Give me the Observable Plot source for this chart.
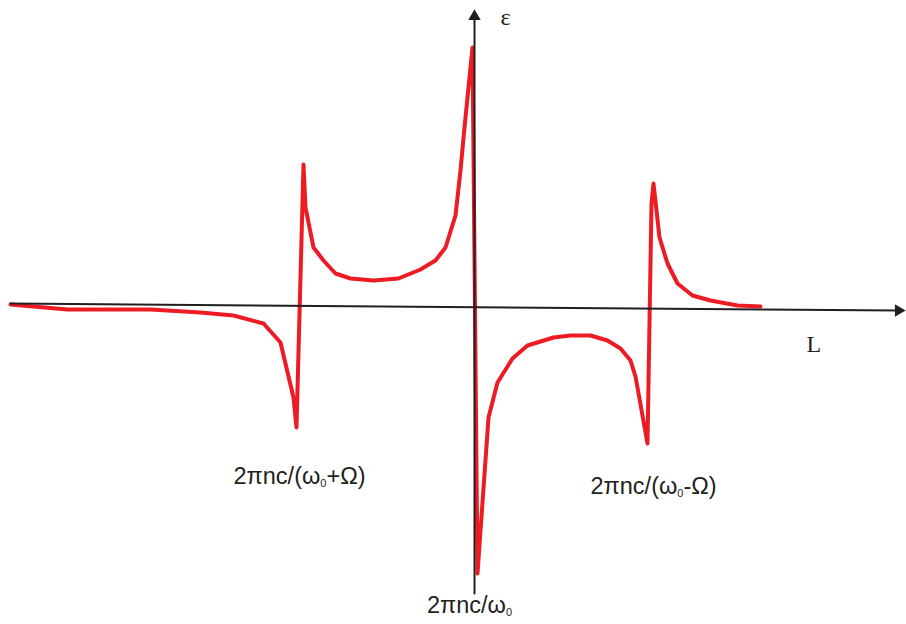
<!DOCTYPE html>
<html><head><meta charset="utf-8">
<script src="https://cdn.jsdelivr.net/npm/d3@7"></script>
<script src="https://cdn.jsdelivr.net/npm/@observablehq/plot@0.6"></script>
<style>body{margin:0;background:#fff}#chart svg{display:block}</style>
</head><body><div id="chart"></div>
<script>
// Curve: L (horizontal) and ε (vertical), arbitrary units
const Lvals = [-4.64,-4.07,-3.24,-2.74,-2.41,-2.11,-1.94,-1.81,-1.78,-1.71,-1.69,-1.61,-1.51,-1.39,-1.24,-1.01,-0.76,-0.54,-0.39,-0.29,-0.19,-0.14,-0.10,-0.02,0.03,0.14,0.23,0.38,0.53,0.79,0.96,1.16,1.33,1.46,1.56,1.61,1.73,1.77,1.79,1.85,1.93,2.03,2.18,2.36,2.63,2.86];
const epsVals = [0.02,-0.03,-0.03,-0.06,-0.09,-0.17,-0.36,-0.91,-1.21,1.42,0.99,0.59,0.46,0.33,0.28,0.26,0.28,0.37,0.46,0.59,0.91,1.36,1.79,2.59,-2.67,-1.11,-0.76,-0.52,-0.39,-0.31,-0.29,-0.29,-0.34,-0.42,-0.54,-0.70,-1.37,1.03,1.23,0.69,0.43,0.23,0.11,0.06,0.01,0.00];

// Axes lines
const xAxisL = [-4.64, 4.24];
const xAxisEps = [0.03, -0.04];
const yAxisL = [0, 0];
const yAxisEps = [-2.87, 2.90];
// Arrow heads
const arrowL = [0, 4.24];
const arrowEps = [2.90, -0.04];
const arrowRot = [0, 90];

// Resonance labels
const labelText = ["2πnc/(ω₀+Ω)", "2πnc/(ω₀-Ω)"];
const labelL = [-2.41, 1.16];
const labelEps = [-1.77, -1.87];
const centerLabel = ["2πnc/ω₀"];
const centerL = [-0.05];
const centerEps = [-3.06];
// Axis names
const axisNames = ["ε", "L"];
const axisNameL = [0.26, 3.32];
const axisNameEps = [2.82, -0.45];

const curve = Lvals.map((l, i) => ({L: l, eps: epsVals[i]}));
const xAxis = xAxisL.map((l, i) => ({L: l, eps: xAxisEps[i]}));
const yAxis = yAxisL.map((l, i) => ({L: l, eps: yAxisEps[i]}));
const arrows = arrowL.map((l, i) => ({L: l, eps: arrowEps[i], rot: arrowRot[i]}));
const labels = labelText.map((t, i) => ({t, L: labelL[i], eps: labelEps[i]}));
const center = centerLabel.map((t, i) => ({t, L: centerL[i], eps: centerEps[i]}));
const names = axisNames.map((t, i) => ({t, L: axisNameL[i], eps: axisNameEps[i]}));

const ink = "#231f20";
const sans = "Liberation Sans, Arial, sans-serif";
const chart = Plot.plot({
  width: 906, height: 624,
  marginTop: 0, marginRight: 0, marginBottom: 0, marginLeft: 0,
  x: {domain: [-4.74, 4.32], axis: null},
  y: {domain: [-3.18, 3.06], axis: null},
  style: {background: "#fff"},
  marks: [
    Plot.line(curve, {x: "L", y: "eps", stroke: "#ed1c24", strokeWidth: 4}),
    Plot.line(xAxis, {x: "L", y: "eps", stroke: ink, strokeWidth: 2}),
    Plot.line(yAxis, {x: "L", y: "eps", stroke: ink, strokeWidth: 2}),
    Plot.dot(arrows, {x: "L", y: "eps", symbol: "triangle", r: 4.6, fill: ink, stroke: "none", rotate: "rot"}),
    Plot.text(labels, {x: "L", y: "eps", text: "t", textAnchor: "start", lineAnchor: "bottom", fontSize: 23.5, fontFamily: sans, fill: ink}),
    Plot.text(center, {x: "L", y: "eps", text: "t", textAnchor: "middle", lineAnchor: "bottom", fontSize: 23.5, fontFamily: sans, fill: ink}),
    Plot.text(names, {x: "L", y: "eps", text: "t", textAnchor: "start", lineAnchor: "bottom", fontSize: 24, fontFamily: "Liberation Serif, Times New Roman, serif", fill: ink})
  ]
});
document.getElementById("chart").appendChild(chart);

// Render the ₀ as a small lowered subscript
d3.select(chart).selectAll("text").each(function() {
  const s = this.textContent;
  if (!s.includes("₀")) return;
  const parts = s.split("₀");
  const el = d3.select(this);
  el.text(null);
  parts.forEach((p, i) => {
    if (i > 0) {
      el.append("tspan").attr("font-size", 11).attr("dy", 3).text("0");
      el.append("tspan").attr("dy", -3).text(p);
    } else {
      el.append("tspan").text(p);
    }
  });
});
</script>
</body></html>
